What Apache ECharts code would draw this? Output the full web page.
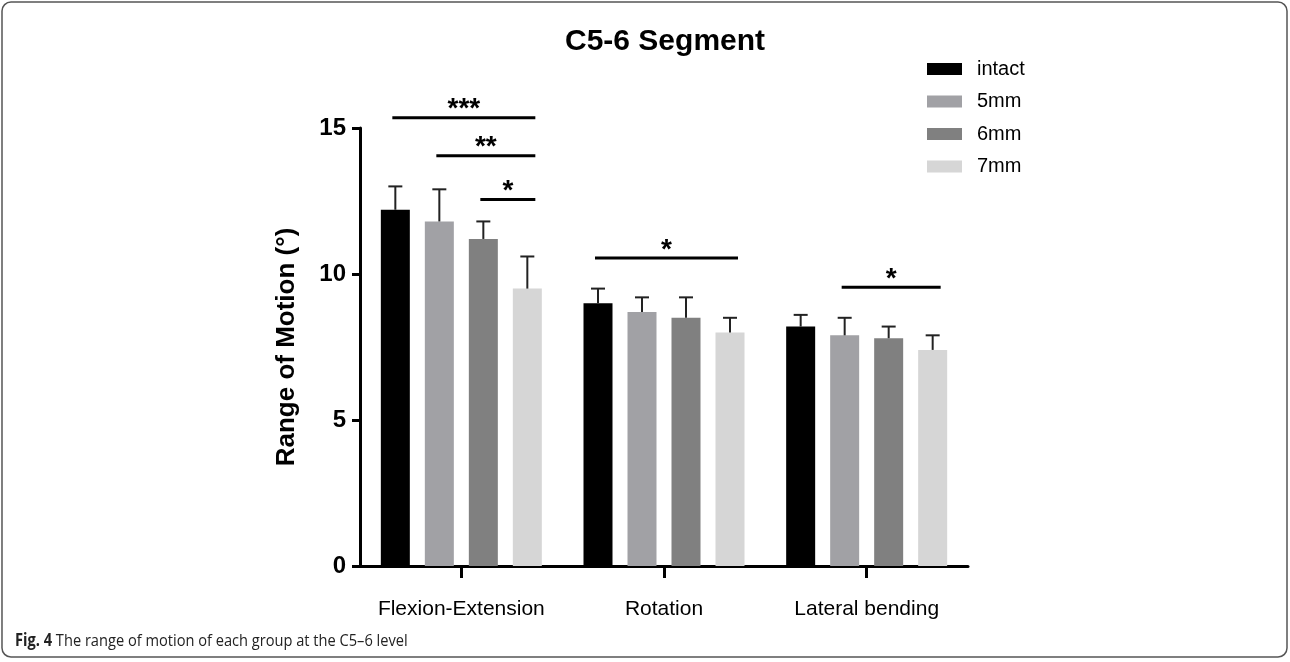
<!DOCTYPE html>
<html>
<head>
<meta charset="utf-8">
<style>
  html, body { margin: 0; padding: 0; background: #fff; }
  #chart { width: 1290px; height: 662px; }
</style>
<script src="https://cdn.jsdelivr.net/npm/echarts@6/dist/echarts.min.js"></script>
</head>
<body>
<div id="chart"></div>
<script>
// ---- data ----
const categories = ['Flexion-Extension', 'Rotation', 'Lateral bending'];
const groups = ['intact', '5mm', '6mm', '7mm'];
const intactMean = [12.2, 9.0, 8.2];
const intactSD   = [0.8, 0.5, 0.4];
const mm5Mean = [11.8, 8.7, 7.9];
const mm5SD   = [1.1, 0.5, 0.6];
const mm6Mean = [11.2, 8.5, 7.8];
const mm6SD   = [0.6, 0.7, 0.4];
const mm7Mean = [9.5, 8.0, 7.4];
const mm7SD   = [1.1, 0.5, 0.5];
const yTicks = [0, 5, 10, 15];
// significance comparisons
const sigCategory = [0, 0, 0, 1, 2];
const sigFrom     = [0, 1, 2, 0, 1];
const sigTo       = [3, 3, 3, 3, 3];
const sigLevel    = [15.35, 14.05, 12.55, 10.55, 9.55];
const sigLabels   = ['***', '**', '*', '*', '*'];

// ---- styles ----
const colors = ['#000000', '#a1a1a5', '#808080', '#d6d6d6'];
const BAR_W = 29, BAR_GAP = 15, PITCH = BAR_W + BAR_GAP;
const FONT = '"Liberation Sans", Arial, sans-serif';

const means = [intactMean, mm5Mean, mm6Mean, mm7Mean];
const sds = [intactSD, mm5SD, mm6SD, mm7SD];

const barSeries = groups.map((g, gi) => ({
  name: g,
  type: 'bar',
  data: means[gi],
  barWidth: BAR_W,
  barGap: (BAR_GAP / BAR_W * 100) + '%',
  itemStyle: { color: colors[gi] },
  z: 2
}));

const errData = [];
groups.forEach((g, gi) => {
  categories.forEach((c, ci) => {
    errData.push([ci, means[gi][ci], sds[gi][ci], gi]);
  });
});

const errSeries = {
  type: 'custom',
  data: errData,
  z: 3,
  silent: true,
  renderItem: function (params, api) {
    const ci = api.value(0), m = api.value(1), sd = api.value(2), gi = api.value(3);
    const base = api.coord([ci, m]);
    const top = api.coord([ci, m + sd]);
    const x = base[0] + (gi - 1.5) * PITCH;
    const st = { stroke: '#222', lineWidth: 2 };
    return {
      type: 'group',
      children: [
        { type: 'line', shape: { x1: x, y1: base[1], x2: x, y2: top[1] }, style: st },
        { type: 'line', shape: { x1: x - 7, y1: top[1], x2: x + 7, y2: top[1] }, style: st }
      ]
    };
  }
};

const sigData = sigCategory.map((c, i) => [c, sigLevel[i], sigFrom[i], sigTo[i], i]);
const sigSeries = {
  type: 'custom',
  data: sigData,
  z: 4,
  silent: true,
  clip: false,
  renderItem: function (params, api) {
    const ci = api.value(0), y = api.value(1), f = api.value(2), t = api.value(3), idx = api.value(4);
    const p = api.coord([ci, y]);
    const x1 = p[0] + (f - 1.5) * PITCH - 3;
    const x2 = p[0] + (t - 1.5) * PITCH + 8;
    return {
      type: 'group',
      children: [
        { type: 'line', shape: { x1: x1, y1: p[1], x2: x2, y2: p[1] }, style: { stroke: '#000', lineWidth: 3 } },
        { type: 'text', style: { text: sigLabels[idx], x: (x1 + x2) / 2, y: p[1] - 8,
            textAlign: 'center', textVerticalAlign: 'middle',
            font: 'bold 28px ' + FONT, fill: '#000' } }
      ]
    };
  }
};

const chart = echarts.init(document.getElementById('chart'), null, { renderer: 'canvas' });
chart.setOption({
  backgroundColor: '#fff',
  animation: false,
  title: {
    text: 'C5-6 Segment',
    left: 560, top: 22,
    textStyle: { fontFamily: FONT, fontSize: 30, fontWeight: 'bold', color: '#000' }
  },
  legend: {
    data: groups,
    orient: 'vertical',
    left: 922, top: 54,
    itemWidth: 35, itemHeight: 12, itemGap: 12.5,
    icon: 'rect',
    textStyle: { fontFamily: FONT, fontSize: 20, color: '#000', padding: [0, 0, 0, 10] }
  },
  grid: { left: 360, right: 322, top: 128, bottom: 96 },
  xAxis: {
    type: 'category',
    data: categories,
    axisLine: { lineStyle: { color: '#000', width: 3 } },
    axisTick: { show: true, alignWithLabel: true, interval: 0, length: 12, lineStyle: { color: '#000', width: 3 } },
    axisLabel: { interval: 0, hideOverlap: false, fontFamily: FONT, fontSize: 21, color: '#000', margin: 33 }
  },
  yAxis: {
    type: 'value',
    min: yTicks[0], max: yTicks[yTicks.length - 1], interval: yTicks[1] - yTicks[0],
    name: 'Range of Motion (°)',
    nameLocation: 'middle',
    nameGap: 60,
    nameTextStyle: { fontFamily: FONT, fontSize: 26, fontWeight: 'bold', color: '#000' },
    axisLine: { show: true, lineStyle: { color: '#000', width: 3 } },
    axisTick: { show: true, length: 8, lineStyle: { color: '#000', width: 3 } },
    axisLabel: { fontFamily: FONT, fontSize: 24, fontWeight: 'bold', color: '#000', margin: 14 },
    splitLine: { show: false }
  },
  graphic: [
    { type: 'rect', shape: { x: 2, y: 2, width: 1285, height: 655, r: 9 },
      style: { fill: 'none', stroke: '#555', lineWidth: 1.5 }, z: -1 },
    { type: 'text', x: 15, y: 641, scaleX: 0.86,
      style: {
        text: '{b|Fig. 4} The range of motion of each group at the C5–6 level',
        font: '17px "Open Sans", sans-serif',
        fill: '#222',
        textVerticalAlign: 'middle',
        rich: { b: { font: 'bold 17px "Open Sans", sans-serif', fill: '#222' } }
      } }
  ],
  series: barSeries.concat([errSeries, sigSeries])
});
</script>
</body>
</html>
